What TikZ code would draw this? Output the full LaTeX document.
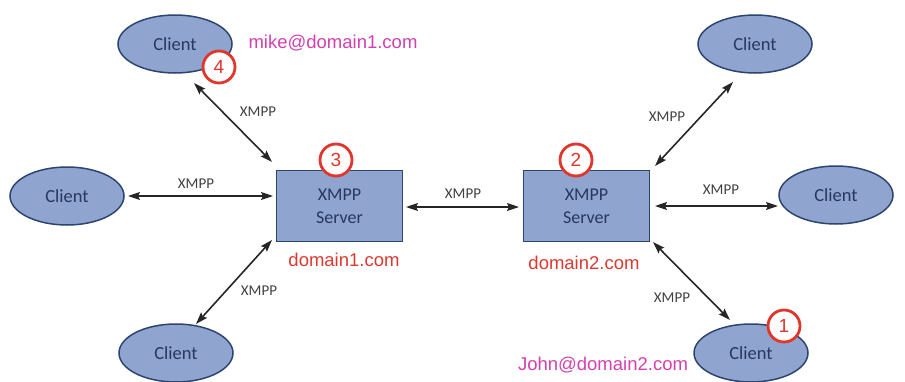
\documentclass[tikz,border=0pt]{standalone}
\usepackage{fontspec}
\setmainfont{Liberation Sans}
\newfontfamily\uifont{Carlito}
\usetikzlibrary{shapes.geometric,arrows.meta}
\definecolor{shapefill}{HTML}{8FA5D0}
\definecolor{shapeedge}{HTML}{2E4470}
\definecolor{shapetext}{HTML}{27375E}
\definecolor{badgered}{HTML}{E0362C}
\definecolor{addrpink}{HTML}{D43FB0}
\definecolor{domred}{HTML}{DA3A30}
\tikzset{
  client/.style={ellipse, draw=shapeedge, line width=1.5pt, fill=shapefill,
    minimum width=114pt, minimum height=58pt, inner sep=0pt,
    font=\uifont\fontsize{18.5}{18.5}\selectfont, text=shapetext},
  server/.style={rectangle, draw=shapeedge, line width=1.5pt, fill=shapefill,
    minimum width=126pt, minimum height=71pt, inner sep=0pt,
    font=\uifont\fontsize{18}{23}\selectfont, text=shapetext, align=center},
  badge/.style={circle, draw=badgered, line width=2.8pt, fill=white,
    minimum size=32pt, inner sep=0pt, text=badgered,
    font=\fontsize{19}{19}\selectfont},
  link/.style={{Stealth[length=12pt,width=8pt,inset=2pt]}-{Stealth[length=12pt,width=8pt,inset=2pt]},
    line width=1.6pt, black!85},
  proto/.style={font=\uifont\fontsize{15}{15}\selectfont, text=black!75},
  addr/.style={font=\fontsize{18.5}{18.5}\selectfont, text=addrpink},
  dom/.style={font=\fontsize{18.5}{18.5}\selectfont, text=domred},
}
\begin{document}
\begin{tikzpicture}[x=1pt,y=-1pt]
\useasboundingbox (0,0) rectangle (905,381);

% servers
\node[server] (s1) at (339.5,206) {XMPP\\Server};
\node[server] (s2) at (586.5,206) {XMPP\\Server};

% clients
\node[client] (ctl) at (175,44)  {Client};
\node[client] (cl)  at (67,196)  {Client};
\node[client] (cbl) at (176,353) {Client};
\node[client] (ctr) at (755,44)  {Client};
\node[client] (cr)  at (836,195) {Client};
\node[client] (cbr) at (751,353) {Client};

% connections
\coordinate (a1) at (194,83);  \coordinate (a2) at (272,162);
\draw[link] (a1) -- (a2);
\coordinate (b1) at (128,196); \coordinate (b2) at (273,196);
\draw[link] (b1) -- (b2);
\coordinate (c1) at (196,324); \coordinate (c2) at (272,240);
\draw[link] (c1) -- (c2);
\coordinate (d1) at (406,207); \coordinate (d2) at (519,207);
\draw[link] (d1) -- (d2);
\coordinate (e1) at (655,166); \coordinate (e2) at (733,82);
\draw[link] (e1) -- (e2);
\coordinate (f1) at (655,206); \coordinate (f2) at (778,206);
\draw[link] (f1) -- (f2);
\coordinate (g1) at (653,242); \coordinate (g2) at (730,320);
\draw[link] (g1) -- (g2);

% protocol labels
\node[proto] (la) at (258,112) {XMPP};
\node[proto] (lb) at (196,184) {XMPP};
\node[proto] (lc) at (259,291) {XMPP};
\node[proto] (ld) at (463,194) {XMPP};
\node[proto] (le) at (667,117) {XMPP};
\node[proto] (lf) at (721,190) {XMPP};
\node[proto] (lg) at (672,298) {XMPP};

% addresses and domains
\node[addr] (mike) at (333,43)  {mike@domain1.com};
\node[addr] (john) at (603,365) {John@domain2.com};
\node[dom]  (dom1) at (344,260) {domain1.com};
\node[dom]  (dom2) at (584,263) {domain2.com};

% step badges
\node[badge] (n4) at (219,67)  {4};
\node[badge] (n3) at (336,160) {3};
\node[badge] (n2) at (576,160) {2};
\node[badge] (n1) at (784,326) {1};
\end{tikzpicture}
\end{document}
